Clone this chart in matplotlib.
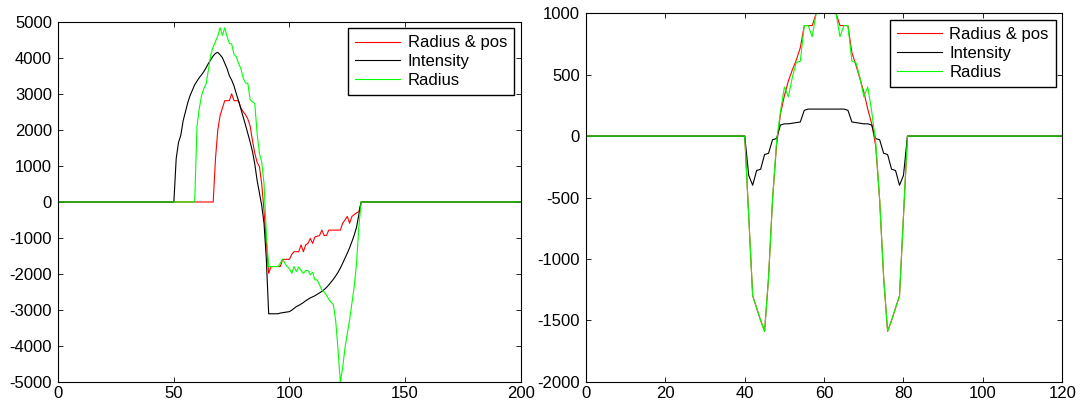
import matplotlib.pyplot as plt
import numpy as np

plt.rcParams['font.family'] = ['Liberation Sans', 'DejaVu Sans']
plt.rcParams['font.size'] = 12
plt.rcParams['axes.unicode_minus'] = False

labels = ['Radius & pos', 'Intensity', 'Radius']
colors = ['#ff0000', '#000000', '#00ff00']

# left panel: 201 samples, zero outside the listed stretches
n_left = 201
pos_start_l = 67
pos_vals_l = [0, 1200, 2000, 2400, 2600, 2810, 2810, 2810, 3000, 2810, 2810, 2800,
              2600, 2500, 2420, 2300, 2100, 1700, 1350, 1100, 980, 500, -250, -1100,
              -1980, -1790, -1790, -1790, -1790, -1790, -1600, -1590, -1590, -1590,
              -1450, -1380, -1380, -1380, -1190, -1380, -1190, -1150, -1010, -1150,
              -970, -950, -930, -780, -930, -930, -780, -780, -780, -780, -780, -780,
              -590, -500, -400, -590, -400, -350, -300, -270, 0]
int_start_l = 50
int_vals_l = [0, 1200, 1650, 1850, 2250, 2500, 2750, 2950, 3100, 3250, 3350, 3450,
              3530, 3620, 3730, 3850, 3950, 4050, 4120, 4150, 4080, 4000, 3850, 3700,
              3500, 3380, 3220, 3000, 2800, 2580, 2360, 2130, 1900, 1660, 1400, 1050,
              600, 250, -100, -600, -1600, -3100, -3100, -3100, -3100, -3100, -3080,
              -3070, -3060, -3050, -3040, -3000, -2950, -2900, -2870, -2830, -2790,
              -2740, -2700, -2660, -2630, -2600, -2560, -2520, -2480, -2430, -2370,
              -2300, -2220, -2140, -2050, -1950, -1830, -1700, -1560, -1420, -1270,
              -1100, -920, -700, -350, 0]
rad_start_l = 58
rad_vals_l = [0, 0, 2100, 2600, 2960, 3150, 3290, 3700, 4100, 4300, 4450, 4600, 4830,
              4620, 4830, 4590, 4400, 4380, 4100, 4030, 3840, 3700, 3430, 3300, 3290,
              2830, 2780, 2730, 1900, 1350, 1100, 500, -900, -1790, -1790, -1790,
              -1790, -1790, -1700, -1580, -1700, -1790, -1850, -1980, -1790, -1930,
              -1800, -1900, -1980, -1900, -1900, -2020, -1950, -2160, -2160, -2300,
              -2440, -2500, -2580, -2700, -2780, -2850, -3300, -4100, -5000, -4600,
              -4050, -3650, -3270, -2800, -2350, -1700, -700, 0]

# right panel: 121 samples
n_right = 121
seg_start_r = 40
pos_vals_r = [0, -650, -1300, -1400, -1500, -1590, -1150, -520, -80, 180, 330, 450,
              540, 620, 720, 900, 900, 900, 1000, 1000, 1000, 1000, 1000, 1000, 900,
              900, 900, 680, 580, 470, 360, 220, 100, -80, -520, -1150, -1590, -1500,
              -1400, -1300, -650, 0]
int_vals_r = [0, -320, -400, -280, -270, -150, -140, -30, -20, 90, 100, 100, 105, 110,
              115, 210, 220, 220, 220, 220, 220, 220, 220, 220, 220, 220, 210, 115,
              110, 105, 100, 100, 90, -20, -30, -140, -150, -270, -280, -400, -320, 0]
rad_vals_r = [0, -650, -1300, -1400, -1500, -1590, -1150, -520, -50, 200, 400, 320,
              480, 600, 610, 900, 900, 810, 1000, 1000, 1000, 1000, 1000, 1000, 810,
              900, 900, 610, 600, 480, 320, 400, 200, -50, -520, -1150, -1590, -1500,
              -1400, -1300, -650, 0]


def full(n, start, vals):
    y = np.zeros(n)
    y[start:start + len(vals)] = vals
    return y


def draw(ax, t, series, xticks, yticks):
    for y, c, lab in zip(series, colors, labels):
        ax.plot(t, y, color=c, lw=0.8, label=lab)
    ax.set_xlim(xticks[0], xticks[-1])
    ax.set_ylim(yticks[0], yticks[-1])
    ax.set_xticks(xticks)
    ax.set_yticks(yticks)
    ax.tick_params(direction='in', top=True, right=True, length=3.6, width=0.6,
                   labelsize=12, colors='k')
    ax.tick_params(axis='x', pad=3)
    ax.tick_params(axis='y', pad=4.5)
    for s in ax.spines.values():
        s.set_linewidth(0.8)
    leg = ax.legend(loc='upper right', fancybox=False, edgecolor='k', framealpha=1,
                    fontsize=12, handlelength=2.7, handletextpad=0.45,
                    borderpad=0.42, labelspacing=0.23, borderaxespad=0.4)
    leg.get_frame().set_linewidth(1.0)


fig = plt.figure(figsize=(10.85, 4.09), dpi=100)

ax1 = fig.add_axes([0.0537, 0.0653, 0.4262, 0.8817])
t1 = np.arange(n_left)
draw(ax1, t1,
     [full(n_left, pos_start_l, pos_vals_l),
      full(n_left, int_start_l, int_vals_l),
      full(n_left, rad_start_l, rad_vals_l)],
     np.arange(0, 201, 50), np.arange(-5000, 5001, 1000))

ax2 = fig.add_axes([0.5401, 0.0667, 0.4389, 0.9008])
t2 = np.arange(n_right)
draw(ax2, t2,
     [full(n_right, seg_start_r, pos_vals_r),
      full(n_right, seg_start_r, int_vals_r),
      full(n_right, seg_start_r, rad_vals_r)],
     np.arange(0, 121, 20), np.arange(-2000, 1001, 500))

plt.savefig('out.png', dpi=100)
